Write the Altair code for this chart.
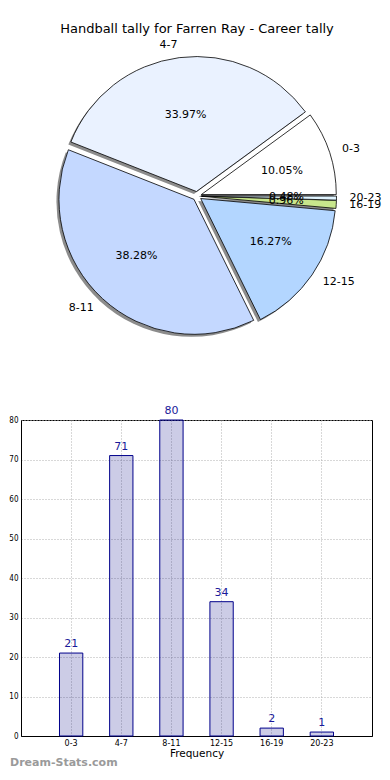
import altair as alt
import pandas as pd

# ---- data ----
bins = ["0-3", "4-7", "8-11", "12-15", "16-19", "20-23"]
counts = [21, 71, 80, 34, 2, 1]
slice_colors = ["#ffffff", "#eaf2ff", "#c4d8ff", "#b3d6ff", "#c8e68c", "#e0f4ff"]
title_text = ["Handball tally for Farren Ray - Career tally"]
y_ticks = [0, 10, 20, 30, 40, 50, 60, 70, 80]
watermark = ["Dream-Stats.com"]

df = pd.DataFrame({"bin": bins, "count": counts, "order": list(range(len(bins))),
                   "color": slice_colors})

# ---- pie geometry (pixels inside pie view) ----
CX, CY = 176, 188
R = 135
E = 4.5
SH = 2.5
LRX, LRY = 148, 148
PRX, PRY = 85, 77

base = (
    alt.Chart(df)
    .transform_joinaggregate(total="sum(count)")
    .transform_window(cum="sum(count)", sort=[alt.SortField("order")], frame=[None, 0])
    .transform_calculate(
        a1="2*PI*(datum.cum - datum['count'])/datum.total",
        a2="2*PI*datum.cum/datum.total",
    )
    .transform_calculate(
        mid="(datum.a1 + datum.a2)/2",
        t1="2.5*PI - datum.a2",
        t2="2.5*PI - datum.a1",
        pct="format(100*datum['count']/datum.total, '.2f') + '%'",
    )
    .transform_calculate(
        cx=f"{CX} + {E}*cos(datum.mid)",
        cy=f"{CY} - {E}*sin(datum.mid)",
    )
    .transform_calculate(
        sx=f"datum.cx - {SH}",
        sy=f"datum.cy + {SH}",
        lx=f"datum.cx + {LRX}*cos(datum.mid)",
        ly=f"datum.cy - {LRY}*sin(datum.mid)",
        px=f"datum.cx + {PRX}*cos(datum.mid)",
        py=f"datum.cy - {PRY}*sin(datum.mid)",
    )
)

shadow = base.mark_arc(outerRadius=R, fill="#8c8c8c").encode(
    theta=alt.Theta("t1:Q", scale=None),
    theta2="t2:Q",
    x=alt.X("sx:Q", scale=None, axis=None),
    y=alt.Y("sy:Q", scale=None, axis=None),
)

slices = base.mark_arc(outerRadius=R, stroke="#000000", strokeWidth=0.8).encode(
    theta=alt.Theta("t1:Q", scale=None),
    theta2="t2:Q",
    x=alt.X("cx:Q", scale=None, axis=None),
    y=alt.Y("cy:Q", scale=None, axis=None),
    fill=alt.Fill("color:N", scale=None),
)

lab_right = base.transform_filter("cos(datum.mid) >= 0").mark_text(
    align="left", baseline="middle", fontSize=11, color="#000000"
).encode(
    x=alt.X("lx:Q", scale=None, axis=None),
    y=alt.Y("ly:Q", scale=None, axis=None),
    text="bin:N",
)
lab_left = base.transform_filter("cos(datum.mid) < 0").mark_text(
    align="right", baseline="middle", fontSize=11, color="#000000"
).encode(
    x=alt.X("lx:Q", scale=None, axis=None),
    y=alt.Y("ly:Q", scale=None, axis=None),
    text="bin:N",
)
pct_text = base.mark_text(align="center", baseline="middle", fontSize=11, color="#000000").encode(
    x=alt.X("px:Q", scale=None, axis=None),
    y=alt.Y("py:Q", scale=None, axis=None),
    text="pct:N",
)

title = alt.Chart(pd.DataFrame({"t": title_text})).mark_text(
    fontSize=13, align="center", baseline="middle", color="#000000"
).encode(x=alt.value(176), y=alt.value(21), text="t:N")

pie = alt.layer(shadow, slices, lab_right, lab_left, pct_text, title).properties(
    width=351, height=396
)

# ---- bar chart ----
bar_df = pd.DataFrame({"bin": bins, "count": counts})
grid_color = "#b0b0b0"

xenc = alt.X(
    "bin:N", sort=bins,
    scale=alt.Scale(paddingInner=0.535, paddingOuter=0.7675),
    axis=alt.Axis(title="Frequency", labelAngle=0, grid=True, gridDash=[1, 2],
                  gridColor=grid_color, bandPosition=0.5, ticks=False,
                  domainColor="#000000", labelFontSize=8, labelColor="#000000",
                  titleFontSize=10.5, titleFontWeight="normal", titleColor="#000000",
                  labelPadding=3, titlePadding=1),
)
yenc = alt.Y(
    "count:Q",
    scale=alt.Scale(domain=[0, 80], nice=False),
    axis=alt.Axis(values=y_ticks, tickCount=9, title=None, grid=True, gridDash=[1, 2],
                  gridColor=grid_color, ticks=False, domainColor="#000000",
                  labelFont="DejaVu Sans Condensed",
                  labelFontSize=8, labelColor="#000000", labelPadding=3,
                  labelOverlap=False),
)

bbase = alt.Chart(bar_df).encode(x=xenc, y=yenc)
bars = bbase.mark_bar(fill="#000080", fillOpacity=0.2, stroke="#00008b", strokeWidth=1)
bar_labels = bbase.mark_text(baseline="bottom", dy=-4, fontSize=11, color="#1a1a9a").encode(
    text="count:Q"
)
wm = alt.Chart(pd.DataFrame({"w": watermark})).mark_text(
    align="left", baseline="middle", fontSize=11, fontWeight="bold", color="#9a9a9a"
).encode(x=alt.value(-11), y=alt.value(343), text="w:N")

bar = alt.layer(bars, bar_labels, wm).properties(
    width=351, height=316,
    view=alt.ViewBackground(stroke="#000000", strokeWidth=1),
)

chart = alt.vconcat(pie, bar, spacing=0).properties(padding=0).configure(
    font="DejaVu Sans"
).configure_view(strokeWidth=0)

chart.save("out.html", embed_options={"renderer": "svg", "actions": False})
